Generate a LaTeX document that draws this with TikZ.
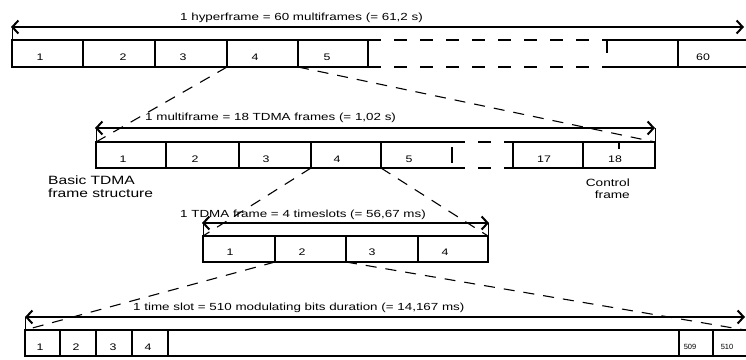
\documentclass[tikz,border=0pt]{standalone}
\usepackage{fontspec}
\setmainfont{Liberation Sans}[FakeStretch=1.3]
\newfontfamily\plainsans{Liberation Sans}
\usetikzlibrary{arrows.meta}
\tikzset{
  cell/.style={line width=2bp},
  barb/.tip={Straight Barb[length=6bp,width=13bp,line width=2bp]},
  dimline/.style={line width=1.5bp, barb-barb},
  extline/.style={line width=0.6bp},
  zoomline/.style={line width=1.1bp, dash pattern=on 11bp off 9bp},
  gapline/.style={line width=1.4bp, dash pattern=on 13bp off 13bp},
  lbl/.style={font=\fontsize{10.3bp}{12bp}\selectfont, anchor=base west, inner sep=0pt},
  num/.style={font=\fontsize{9.5bp}{10bp}\selectfont, anchor=base, inner sep=0pt},
  smallnum/.style={font=\plainsans\fontsize{7.5bp}{8bp}\selectfont, anchor=base, inner sep=0pt},
  note/.style={inner sep=0pt}
}
\begin{document}
\begin{tikzpicture}[x=1bp,y=-1bp]
\useasboundingbox (0,0) rectangle (746,359);

% ---------- Row 1: hyperframe ----------
\node[lbl] (L1) at (180,20) {1 hyperframe = 60 multiframes (= 61,2 s)};
\coordinate (A1l) at (11,27); \coordinate (A1r) at (744,27);
\draw[dimline] (A1l) -- (A1r);
\draw[extline] (12,27) -- (12,40);
\draw[cell] (368,40) -- (12,40) -- (12,67) -- (368,67);
\foreach \x in {83,155,227,298,368} \draw[cell] (\x,40) -- (\x,67);
\draw[gapline] (368,40) -- (607,40) (368,67) -- (607,67) (607,40) -- (607,67);
\draw[cell] (607,40) -- (747,40) (607,67) -- (747,67) (678,40) -- (678,67);
\node[num] (h1) at (40,60) {1};
\node[num] (h2) at (123,60) {2};
\node[num] (h3) at (183,60) {3};
\node[num] (h4) at (255,60) {4};
\node[num] (h5) at (327,60) {5};
\node[num] (h60) at (703,60) {60};
\coordinate (H4bl) at (227,67); \coordinate (H4br) at (298,67);

% ---------- Row 2: multiframe ----------
\node[lbl] (L2) at (145,120) {1 multiframe = 18 TDMA frames (= 1,02 s)};
\coordinate (A2l) at (95,128); \coordinate (A2r) at (655,128);
\draw[dimline] (A2l) -- (A2r);
\draw[extline] (96,128) -- (96,142) (655,128) -- (655,142);
\draw[cell] (452,142) -- (96,142) -- (96,168) -- (452,168);
\foreach \x in {166,239,311,381} \draw[cell] (\x,142) -- (\x,168);
\draw[cell] (452,147) -- (452,163);
\draw[gapline] (452,142) -- (513,142) (452,168) -- (513,168);
\draw[cell] (513,142) -- (655,142) -- (655,168) -- (513,168) -- cycle;
\draw[cell] (583,142) -- (583,168);
\draw[cell] (619,142) -- (619,149);
\node[num] (m1) at (123,162) {1};
\node[num] (m2) at (195,162) {2};
\node[num] (m3) at (266,162) {3};
\node[num] (m4) at (337,162) {4};
\node[num] (m5) at (409,162) {5};
\node[num] (m17) at (544,162) {17};
\node[num] (m18) at (615,162) {18};
\coordinate (M1tl) at (96,142); \coordinate (M18tr) at (655,142);
\coordinate (M4bl) at (311,168); \coordinate (M4br) at (381,168);
\node[note, align=left, anchor=north west, font=\fontsize{12bp}{13bp}\selectfont] (basic) at (48,176) {Basic TDMA\\frame structure};
\node[note, align=right, anchor=north east, font=\fontsize{10.5bp}{12bp}\selectfont] (ctrl) at (630,179) {Control\\frame};

% ---------- Row 3: TDMA frame ----------
\node[lbl] (L3) at (180,217) {1 TDMA frame = 4 timeslots (= 56,67 ms)};
\coordinate (A3l) at (202,223); \coordinate (A3r) at (489,223);
\draw[dimline] (A3l) -- (A3r);
\draw[extline] (203,223) -- (203,236) (488,223) -- (488,236);
\draw[cell] (203,236) rectangle (488,262);
\foreach \x in {275,346,418} \draw[cell] (\x,236) -- (\x,262);
\node[num] (t1) at (230,255) {1};
\node[num] (t2) at (302,255) {2};
\node[num] (t3) at (372,255) {3};
\node[num] (t4) at (445,255) {4};
\coordinate (T1tl) at (203,236); \coordinate (T4tr) at (488,236);
\coordinate (T2bl) at (275,262); \coordinate (T2br) at (346,262);

% ---------- Row 4: time slot ----------
\node[lbl] (L4) at (133,310) {1 time slot = 510 modulating bits duration (= 14,167 ms)};
\coordinate (A4l) at (25,317); \coordinate (A4r) at (745,317);
\draw[dimline] (A4l) -- (A4r);
\draw[extline] (25,317) -- (25,330);
\draw[cell] (748,330) -- (25,330) -- (25,356) -- (748,356);
\foreach \x in {60,96,132,168,679,713} \draw[cell] (\x,330) -- (\x,356);
\node[num] (s1) at (40,350) {1};
\node[num] (s2) at (76,350) {2};
\node[num] (s3) at (113,350) {3};
\node[num] (s4) at (148,350) {4};
\node[smallnum] (s509) at (690,349) {509};
\node[smallnum] (s510) at (727,349) {510};
\coordinate (S1tl) at (25,330); \coordinate (S510tr) at (745,330);

% ---------- zoom (expansion) lines ----------
\draw[zoomline] (H4bl) -- (M1tl);
\draw[zoomline] (H4br) -- (M18tr);
\draw[zoomline] (M4bl) -- (T1tl);
\draw[zoomline] (M4br) -- (T4tr);
\draw[zoomline] (T2bl) -- (S1tl);
\draw[zoomline] (T2br) -- (S510tr);
\end{tikzpicture}
\end{document}
